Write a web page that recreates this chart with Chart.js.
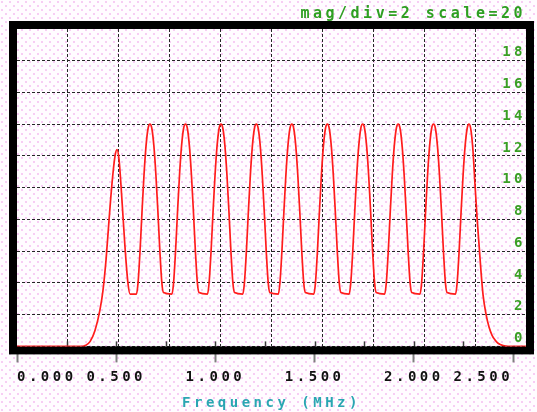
<!DOCTYPE html>
<html><head><meta charset="utf-8">
<script src="https://cdn.jsdelivr.net/npm/chart.js@4/dist/chart.umd.min.js"></script>
<style>html,body{margin:0;padding:0;background:#fdf5fd;}canvas{display:block}</style>
</head><body>
<canvas id="c" width="537" height="412"></canvas>
<script>
// ---- data ----
const freqMHz = [
  0.000, 0.330, 0.343, 0.368, 0.393, 0.418, 0.433, 0.449, 0.464, 0.479, 0.494, 0.504,
  0.514, 0.529, 0.544, 0.559, 0.570, 0.602,
  0.610, 0.620, 0.630, 0.640, 0.650, 0.660, 0.670, 0.680, 0.690, 0.700, 0.710, 0.720, 0.730, 0.738, 0.781,
  0.789, 0.799, 0.809, 0.819, 0.829, 0.839, 0.849, 0.859, 0.869, 0.879, 0.889, 0.899, 0.909, 0.917, 0.960,
  0.968, 0.978, 0.988, 0.998, 1.008, 1.018, 1.028, 1.038, 1.048, 1.058, 1.068, 1.078, 1.088, 1.096, 1.138,
  1.146, 1.156, 1.166, 1.176, 1.186, 1.196, 1.206, 1.216, 1.226, 1.236, 1.246, 1.256, 1.266, 1.274, 1.317,
  1.325, 1.335, 1.345, 1.355, 1.365, 1.375, 1.385, 1.395, 1.405, 1.415, 1.425, 1.435, 1.445, 1.453, 1.496,
  1.504, 1.514, 1.524, 1.534, 1.544, 1.554, 1.564, 1.574, 1.584, 1.594, 1.604, 1.614, 1.624, 1.632, 1.674,
  1.682, 1.692, 1.702, 1.712, 1.722, 1.732, 1.742, 1.752, 1.762, 1.772, 1.782, 1.792, 1.802, 1.810, 1.853,
  1.861, 1.871, 1.881, 1.891, 1.901, 1.911, 1.921, 1.931, 1.941, 1.951, 1.961, 1.971, 1.981, 1.989, 2.031,
  2.039, 2.049, 2.059, 2.069, 2.079, 2.089, 2.099, 2.109, 2.119, 2.129, 2.139, 2.149, 2.159, 2.167, 2.210,
  2.218, 2.228, 2.238, 2.248, 2.258, 2.268, 2.278, 2.288, 2.298, 2.308, 2.319, 2.329, 2.339, 2.349,
  2.364, 2.379, 2.394, 2.409, 2.424, 2.450, 2.475, 2.565
];
const magnitude = [
  0, 0, 0.05, 0.3, 1.0, 2.3, 3.5, 5.5, 8.0, 10.3, 12.0, 12.4,
  11.8, 9.2, 6.3, 4.0, 3.3, 3.3,
  4.0, 6.0, 8.5, 10.8, 12.6, 13.7, 14.0, 13.7, 12.6, 10.8, 8.5, 6.0, 4.0, 3.4, 3.3,
  4.0, 6.0, 8.5, 10.8, 12.6, 13.7, 14.0, 13.7, 12.6, 10.8, 8.5, 6.0, 4.0, 3.4, 3.3,
  4.0, 6.0, 8.5, 10.8, 12.6, 13.7, 14.0, 13.7, 12.6, 10.8, 8.5, 6.0, 4.0, 3.4, 3.3,
  4.0, 6.0, 8.5, 10.8, 12.6, 13.7, 14.0, 13.7, 12.6, 10.8, 8.5, 6.0, 4.0, 3.4, 3.3,
  4.0, 6.0, 8.5, 10.8, 12.6, 13.7, 14.0, 13.7, 12.6, 10.8, 8.5, 6.0, 4.0, 3.4, 3.3,
  4.0, 6.0, 8.5, 10.8, 12.6, 13.7, 14.0, 13.7, 12.6, 10.8, 8.5, 6.0, 4.0, 3.4, 3.3,
  4.0, 6.0, 8.5, 10.8, 12.6, 13.7, 14.0, 13.7, 12.6, 10.8, 8.5, 6.0, 4.0, 3.4, 3.3,
  4.0, 6.0, 8.5, 10.8, 12.6, 13.7, 14.0, 13.7, 12.6, 10.8, 8.5, 6.0, 4.0, 3.4, 3.3,
  4.0, 6.0, 8.5, 10.8, 12.6, 13.7, 14.0, 13.7, 12.6, 10.8, 8.5, 6.0, 4.0, 3.4, 3.3,
  4.0, 6.0, 8.5, 10.8, 12.6, 13.7, 14.0, 13.6, 12.3, 10.2, 8.0, 6.3, 4.6, 3.2,
  2.0, 1.2, 0.7, 0.4, 0.2, 0.05, 0, 0
];
const xTickValues = [0, 0.5, 1.0, 1.5, 2.0, 2.5];
const xTickLabels = ['0.000', '0.500', '1.000', '1.500', '2.000', '2.500'];
const xMinorTicks = [0.25, 0.5, 0.75, 1.0, 1.25, 1.5, 1.75, 2.0, 2.25];
const yTickValues = [0, 2, 4, 6, 8, 10, 12, 14, 16, 18];
const yTickLabels = ['0', '2', '4', '6', '8', '10', '12', '14', '16', '18'];
const gridDivisions = [1, 2, 3, 4, 5, 6, 7, 8, 9];
const headerText = 'mag/div=2 scale=20';
const xTitleText = 'Frequency (MHz)';

// ---- styling ----
const MONO = "'DejaVu Sans Mono', 'Liberation Mono', monospace";
const SPACING = '3.5px';
function setSpacing(chart){ chart.ctx.letterSpacing = SPACING; }

const bgPlugin = {
  id: 'bg',
  beforeUpdate: setSpacing,
  beforeLayout: setSpacing,
  beforeDraw(chart) {
    const ctx = chart.ctx;
    const tile = document.createElement('canvas');
    tile.width = 8; tile.height = 8;
    const t = tile.getContext('2d');
    t.fillStyle = '#fffcff'; t.fillRect(0, 0, 8, 8);
    t.fillStyle = '#f7cdf4'; t.fillRect(1, 1, 2, 2); t.fillRect(5, 5, 2, 2);
    ctx.save();
    ctx.fillStyle = ctx.createPattern(tile, 'repeat');
    ctx.fillRect(0, 0, chart.width, chart.height);
    ctx.restore();
    setSpacing(chart);
  }
};

const framePlugin = {
  id: 'frame',
  beforeDatasetsDraw(chart) {
    const {ctx, chartArea: a} = chart;
    const xs = chart.scales.x;
    ctx.save();
    ctx.setLineDash([]);
    // minor tick marks inside the bottom edge
    ctx.strokeStyle = '#3a3a3a';
    ctx.lineWidth = 1.5;
    xMinorTicks.forEach(v => {
      const px = Math.round(xs.getPixelForValue(v)) + 0.5;
      ctx.beginPath(); ctx.moveTo(px, a.bottom - 5); ctx.lineTo(px, a.bottom); ctx.stroke();
    });
    // thick black frame
    ctx.strokeStyle = '#000';
    ctx.lineWidth = 8;
    ctx.strokeRect(a.left - 4, a.top - 4, a.right - a.left + 8, a.bottom - a.top + 8);
    ctx.restore();
  }
};

const gridStyle = {color: '#262626', lineWidth: 1, drawTicks: false};

new Chart(document.getElementById('c'), {
  type: 'line',
  data: {
    datasets: [{
      data: freqMHz.map((f, i) => ({x: f, y: magnitude[i]})),
      borderColor: '#ff1c1c',
      borderWidth: 1.7,
      pointRadius: 0,
      fill: false,
      cubicInterpolationMode: 'monotone',
      xAxisID: 'x', yAxisID: 'y'
    }]
  },
  options: {
    responsive: false,
    animation: false,
    events: [],
    layout: {padding: {left: 17, right: 11, top: 0, bottom: 0}},
    plugins: {
      legend: {display: false},
      tooltip: {enabled: false},
      title: {
        display: true, text: headerText, align: 'end',
        color: '#2f9f22', font: {family: MONO, size: 15, weight: 'bold'},
        padding: {top: 5, bottom: 6}
      }
    },
    scales: {
      x: {
        type: 'linear', position: 'bottom', min: 0, max: 2.565,
        afterBuildTicks: s => { s.ticks = xTickValues.map(v => ({value: v})); },
        grid: {display: true, drawOnChartArea: false, drawTicks: true, tickLength: 16,
               tickColor: '#808080', tickWidth: 2},
        border: {display: false},
        ticks: {
          autoSkip: false, maxRotation: 0, padding: 7, color: '#111', align: 'inner',
          font: {family: MONO, size: 14, weight: 'bold'},
          callback: (v, i) => xTickLabels[i]
        },
        title: {display: true, text: xTitleText, color: '#2aa6b2',
                font: {family: MONO, size: 14, weight: 'bold'}, padding: {top: 2, bottom: 0}}
      },
      xg: {
        type: 'linear', position: 'top', min: 0, max: 10,
        afterBuildTicks: s => { s.ticks = gridDivisions.map(v => ({value: v})); },
        grid: gridStyle,
        border: {display: false, dash: [3, 2]},
        ticks: {display: false}
      },
      y: {
        type: 'linear', position: 'right', min: 0, max: 20,
        afterBuildTicks: s => { s.ticks = yTickValues.map(v => ({value: v})); },
        grid: gridStyle,
        border: {display: false, dash: [3, 2]},
        ticks: {
          mirror: true, padding: 0, labelOffset: -8, color: '#3a9f25',
          font: {family: MONO, size: 14, weight: 'bold'},
          callback: (v, i) => yTickLabels[i]
        }
      }
    }
  },
  plugins: [bgPlugin, framePlugin]
});
</script>
</body></html>
